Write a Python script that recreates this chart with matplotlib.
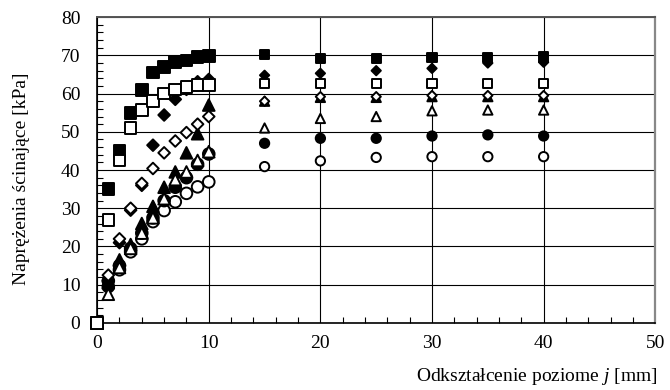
import numpy as np
import matplotlib.pyplot as plt
from matplotlib.ticker import MultipleLocator

plt.rcParams['font.family'] = ['Liberation Serif', 'DejaVu Serif']
plt.rcParams['mathtext.fontset'] = 'custom'
plt.rcParams['mathtext.rm'] = 'Liberation Serif'
plt.rcParams['mathtext.it'] = 'Liberation Serif:italic'

# przemieszczenie poziome [mm]
x = [0, 1, 2, 3, 4, 5, 6, 7, 8, 9, 10, 15, 20, 25, 30, 35, 40]

# naprężenia ścinające [kPa] dla kolejnych serii
sq_full = [0, 35, 45, 55, 61, 65.5, 67, 68.3, 68.7, 69.6, 69.8, 70.2, 69.2, 69.2, 69.5, 69.5, 69.6]
sq_open = [0, 27, 42.5, 51, 55.7, 58, 60, 61.1, 61.8, 62.2, 62.3, 62.7, 62.7, 62.7, 62.7, 62.7, 62.7]
dia_full = [0, 11, 21, 29.5, 36, 46.5, 54.4, 58.5, 61.1, 63.1, 63.7, 64.8, 65.3, 66, 66.6, 68, 68.2]
dia_open = [0, 12.5, 22, 30, 36.5, 40.4, 44.5, 47.6, 49.8, 52, 54, 58, 59.2, 59.2, 59.5, 59.5, 59.5]
tri_full = [0, 10.5, 16.5, 20.5, 26, 30.5, 35.5, 39.5, 44.5, 49.5, 57, 58, 59, 59, 59.2, 59.2, 59.2]
tri_open = [0, 7.5, 14.5, 19.5, 23.5, 27.5, 32.5, 37.5, 39.5, 42.5, 44.8, 51, 53.5, 54, 55.5, 55.7, 55.7]
cir_full = [0, 9.5, 15, 19.5, 23.5, 27.5, 32, 35.5, 38, 41.5, 44.2, 47, 48.3, 48.3, 48.9, 49.2, 48.9]
cir_open = [0, 11, 13.9, 18.6, 22, 26.5, 29.4, 31.7, 33.9, 35.6, 36.9, 40.9, 42.4, 43.3, 43.5, 43.5, 43.5]

# kolejność rysowania: od spodu
series = [
    (cir_open, 'o', False),
    (cir_full, 'o', True),
    (tri_full, '^', True),
    (tri_open, '^', False),
    (dia_full, 'D', True),
    (dia_open, 'D', False),
    (sq_full, 's', True),
    (sq_open, 's', False),
]

fig = plt.figure(figsize=(6.7, 3.9), dpi=100)
ax = fig.add_axes([0.145, 0.172, 0.833, 0.784])

xa = np.array(x)
for vals, mk, filled in series:
    size = np.where(xa <= 10, 70, 45)
    if mk == 'D':
        size = size * 0.5
    ax.scatter(xa, vals, s=size, marker=mk,
               facecolors='black' if filled else 'white',
               edgecolors='black', linewidths=1.4, zorder=3, clip_on=False)

ax.set_xlim(0, 50)
ax.set_ylim(0, 80)
ax.xaxis.set_major_locator(MultipleLocator(10))
ax.xaxis.set_minor_locator(MultipleLocator(2))
ax.yaxis.set_major_locator(MultipleLocator(10))
ax.yaxis.set_minor_locator(MultipleLocator(2))
ax.tick_params(which='both', direction='in', labelsize=14, colors='black')
ax.tick_params(which='major', length=0)
ax.tick_params(axis='x', which='major', pad=9)
ax.tick_params(axis='y', which='major', pad=12)
ax.tick_params(which='minor', length=4, width=0.8)
ax.grid(which='major', color='black', linewidth=0.8)

for side in ['left', 'bottom']:
    ax.spines[side].set_color('black')
    ax.spines[side].set_linewidth(1.2)
ax.spines['top'].set_color('#555555')
ax.spines['top'].set_linewidth(1.4)
ax.spines['right'].set_color('#888888')
ax.spines['right'].set_linewidth(1.6)

ax.set_ylabel('Naprężenia ścinające [kPa]', fontsize=14)
ax.yaxis.set_label_coords(-0.12, 0.47)
fig.text(0.982, 0.008, r'Odkształcenie poziome $\it{j}$ [mm]', ha='right',
         va='bottom', fontsize=14)

fig.savefig('out.png', dpi=100)
